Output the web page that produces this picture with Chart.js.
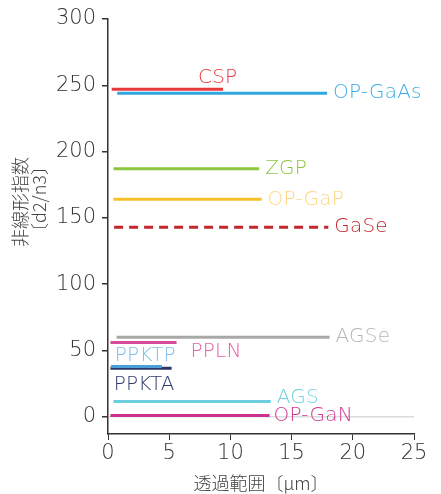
<!DOCTYPE html>
<html>
<head>
<meta charset="utf-8">
<script src="https://cdn.jsdelivr.net/npm/chart.js@4"></script>
<style>
  html, body { margin: 0; padding: 0; background: #fff; }
  .wrap { width: 441px; height: 494px; }
</style>
</head>
<body>
<div class="wrap"><canvas class="my-chart" width="441" height="494"></canvas></div>
<script>
const myChart = document.querySelector(".my-chart");

// materials: name, nonlinear figure (y), transparency range start / end (µm)
const names = ["CSP", "OP-GaAs", "ZGP", "OP-GaP", "GaSe", "AGSe", "PPLN", "PPKTP", "PPKTA", "AGS", "OP-GaN"];
const figure = [247, 244, 187, 164, 143, 60, 56, 38, 36.5, 11.5, 1];
const rangeStart = [0.3, 0.75, 0.45, 0.45, 0.5, 0.7, 0.2, 0.25, 0.2, 0.45, 0.2];
const rangeEnd = [9.4, 17.9, 12.35, 12.55, 18, 18.1, 5.6, 4.4, 5.2, 13.3, 13.2];

const lineColors = ["#e8383d", "#2fa8e0", "#8cc63f", "#f8c12c", "#c1272d", "#a8a8a8", "#d94a9c", "#4d9fd8", "#2b3768", "#6ccfdf", "#cf2f8f"];
const labelColors = ["#e8383d", "#3aade3", "#8cc63f", "#fdd680", "#c1272d", "#b5b5b5", "#e45fa6", "#7fbfea", "#2f3b6c", "#6fd0e0", "#d2378f"];

const xTicks = [0, 5, 10, 15, 20, 25];
const yTicks = [0, 50, 100, 150, 200, 250, 300];

// where each label sits relative to the end of its line (pixels)
const labelPos = [
    { dx: -25, dy: -11 },
    { dx: 6, dy: 0 },
    { dx: 6, dy: 0 },
    { dx: 6, dy: 0 },
    { dx: 6, dy: 0 },
    { dx: 6, dy: 0 },
    { dx: 14, dy: 9 },
    { dx: -47, dy: -11 },
    { dx: -58, dy: 16 },
    { dx: 6, dy: -4 },
    { dx: 4, dy: 0 },
];

const FONT = "'DejaVu Sans', sans-serif";
const JFONT = "'Noto Sans CJK JP', sans-serif";

const datasets = names.map((n, i) => ({
    label: n,
    data: [
        { x: rangeStart[i], y: figure[i] },
        { x: rangeEnd[i], y: figure[i] },
    ],
    borderColor: lineColors[i],
    borderWidth: 3,
    borderDash: n === "GaSe" ? [9, 6] : [],
    pointRadius: 0,
    fill: false,
}));

const labelsPlugin = {
    id: "materialLabels",
    afterDatasetsDraw(chart) {
        const { ctx, scales } = chart;
        ctx.save();
        ctx.font = "200 20px " + FONT;
        ctx.letterSpacing = "0.2px";
        ctx.textBaseline = "middle";
        ctx.textAlign = "left";
        names.forEach((n, i) => {
            const x = scales.x.getPixelForValue(rangeEnd[i]) + labelPos[i].dx;
            const y = scales.y.getPixelForValue(figure[i]) + labelPos[i].dy;
            ctx.fillStyle = labelColors[i];
            ctx.fillText(n, x, y);
        });
        ctx.letterSpacing = "0px";
        // y axis title, two rotated lines
        ctx.fillStyle = "#444";
        ctx.font = "300 18px " + JFONT;
        ctx.textAlign = "right";
        [["非線形指数", 20], ["〔d2/n3〕", 39]].forEach(([t, x]) => {
            ctx.save();
            ctx.translate(x, 157);
            ctx.rotate(-Math.PI / 2);
            ctx.fillText(t, 0, 0);
            ctx.restore();
        });
        ctx.restore();
    },
};

new Chart(myChart, {
    type: "line",
    data: { datasets: datasets },
    plugins: [labelsPlugin],
    options: {
        responsive: false,
        animation: false,
        layout: { padding: { top: 19, right: 27, left: 0, bottom: 0 } },
        plugins: {
            legend: { display: false },
            tooltip: { enabled: false },
        },
        scales: {
            x: {
                type: "linear",
                min: 0,
                max: 25,
                afterBuildTicks: (s) => { s.ticks = xTicks.map((v) => ({ value: v })); },
                afterFit: (s) => { s.height = 60; },
                border: { color: "#333", width: 1.5 },
                grid: { display: true, drawOnChartArea: false, tickLength: 6, tickColor: "#333" },
                ticks: { color: "#333", font: { family: FONT, size: 21, weight: 200 }, padding: 1 },
                title: {
                    display: true,
                    text: "透過範囲〔μm〕",
                    color: "#444",
                    font: { family: JFONT, size: 18, weight: 300 },
                    padding: { top: 2, bottom: 0 },
                },
            },
            y: {
                type: "linear",
                min: -13,
                max: 300,
                afterBuildTicks: (s) => { s.ticks = yTicks.map((v) => ({ value: v })); },
                afterFit: (s) => { s.width = 108; },
                border: { color: "#333", width: 1.5 },
                grid: {
                    tickLength: 6,
                    tickColor: "#333",
                    lineWidth: 1.5,
                    color: (c) => (c.tick && c.tick.value === 0 ? "#dcdcdc" : "transparent"),
                },
                ticks: { color: "#333", font: { family: FONT, size: 21, weight: 200 }, padding: 6 },
            },
        },
    },
});
</script>
</body>
</html>
